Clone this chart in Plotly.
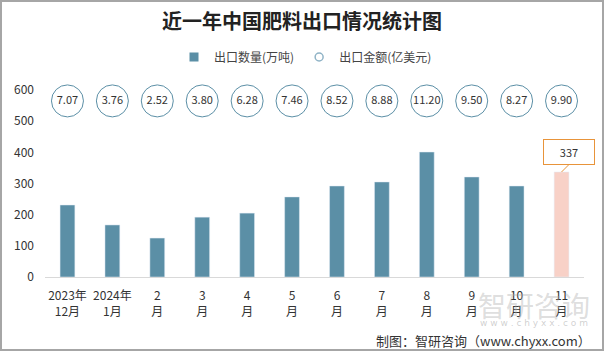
import plotly.graph_objects as go

categories = ["2023年<br>12月", "2024年<br>1月", "2<br>月", "3<br>月", "4<br>月", "5<br>月",
              "6<br>月", "7<br>月", "8<br>月", "9<br>月", "10<br>月", "11<br>月"]
export_volume = [231, 167, 125, 192, 205, 257, 292, 305, 401, 321, 292, 337]
export_value = [7.07, 3.76, 2.52, 3.80, 6.28, 7.46, 8.52, 8.88, 11.20, 9.50, 8.27, 9.90]
y_ticks = [0, 100, 200, 300, 400, 500, 600]
circle_row_y = 565

FONT = "Noto Sans CJK SC"
bar_colors = ["#5b8fa6"] * (len(categories) - 1) + ["#f8d1c7"]

fig = go.Figure()
fig.add_trace(go.Bar(
    x=categories, y=export_volume, marker_color=bar_colors, width=0.33,
    name="出口数量(万吨)", showlegend=False,
))
# legend-only entries
fig.add_trace(go.Scatter(
    x=[categories[0]], y=[None], mode="markers", name="出口数量(万吨)",
    marker=dict(symbol="square", size=9, color="#5b8fa6"),
))
fig.add_trace(go.Scatter(
    x=[categories[0]], y=[None], mode="markers", name="出口金额(亿美元)",
    marker=dict(symbol="circle-open", size=8, color="#8fb3c6", line=dict(width=1.5)),
))
fig.add_trace(go.Scatter(
    x=categories, y=[circle_row_y] * len(categories), mode="markers+text",
    text=[f"{v:.2f}" for v in export_value], textposition="middle center",
    textfont=dict(family=FONT, size=11, color="#333333"),
    marker=dict(symbol="circle", size=32, color="white",
                line=dict(color="#5b8fa6", width=1)),
    showlegend=False, cliponaxis=False, hoverinfo="skip",
))

fig.add_annotation(
    x=categories[-1], y=export_volume[-1], text=str(export_volume[-1]),
    showarrow=True, arrowhead=0, arrowcolor="#e8943a", arrowwidth=1,
    ax=7, ay=-7, xanchor="center", yanchor="bottom",
    bordercolor="#e8943a", borderwidth=1, borderpad=4, bgcolor="white",
    width=42, height=16, font=dict(family=FONT, size=11, color="#333333"),
)

L, R, T, B = 45, 20, 90, 74
W, H = 604, 351
pw, ph = W - L - R, H - T - B

# watermark & source
fig.add_annotation(xref="paper", yref="paper", x=(592 - L) / pw, y=-(283 - T - ph) / ph,
                   text="智研咨询", showarrow=False, xanchor="right", yanchor="top",
                   font=dict(family=FONT, size=28, color="rgba(170,170,170,0.4)"))
fig.add_annotation(xref="paper", yref="paper", x=(590 - L) / pw, y=-(316 - T - ph) / ph,
                   text="w w w . c h y x x . c o m", showarrow=False, xanchor="right", yanchor="top",
                   font=dict(family="DejaVu Sans", size=9, color="rgba(150,150,150,0.45)"))
fig.add_annotation(xref="paper", yref="paper", x=(593 - L) / pw, y=-(329 - T - ph) / ph,
                   text="制图：智研咨询（www.chyxx.com）", showarrow=False,
                   xanchor="right", yanchor="top",
                   font=dict(family=FONT, size=13, color="#333333"))

fig.add_shape(type="rect", xref="paper", yref="paper",
              x0=-(L - 1) / pw, x1=1 + (R - 1) / pw,
              y0=-(B - 1) / ph, y1=1 + (T - 1) / ph,
              line=dict(color="#a6a6a6", width=2), fillcolor="rgba(0,0,0,0)")

fig.update_layout(
    width=W, height=H, margin=dict(l=L, r=R, t=T, b=B),
    paper_bgcolor="white", plot_bgcolor="white",
    title=dict(text="<b>近一年中国肥料出口情况统计图</b>", x=0.5, xanchor="center",
               y=1 - 22 / H, yanchor="middle",
               font=dict(family=FONT, size=20, color="#222222")),
    legend=dict(orientation="h", x=0.5 - 9 / pw, xanchor="center", y=1 + (T - 57) / ph,
                yanchor="middle", font=dict(family=FONT, size=12, color="#444444"),
                itemwidth=30, tracegroupgap=0),
    bargap=0.67,
    showlegend=True,
)
fig.update_xaxes(showline=True, linecolor="#d9d9d9", linewidth=1, ticks="",
                 tickangle=0, categoryorder="array", categoryarray=categories,
                 range=[-0.5, len(categories) - 0.5], ticklabelstandoff=8,
                 tickfont=dict(family=FONT, size=12, color="#333333"), showgrid=False)
fig.update_yaxes(range=[0, 600], tickvals=y_ticks, showgrid=False, zeroline=False,
                 ticklabelstandoff=10,
                 tickfont=dict(family=FONT, size=12, color="#333333"))

fig.write_html("out.html")
